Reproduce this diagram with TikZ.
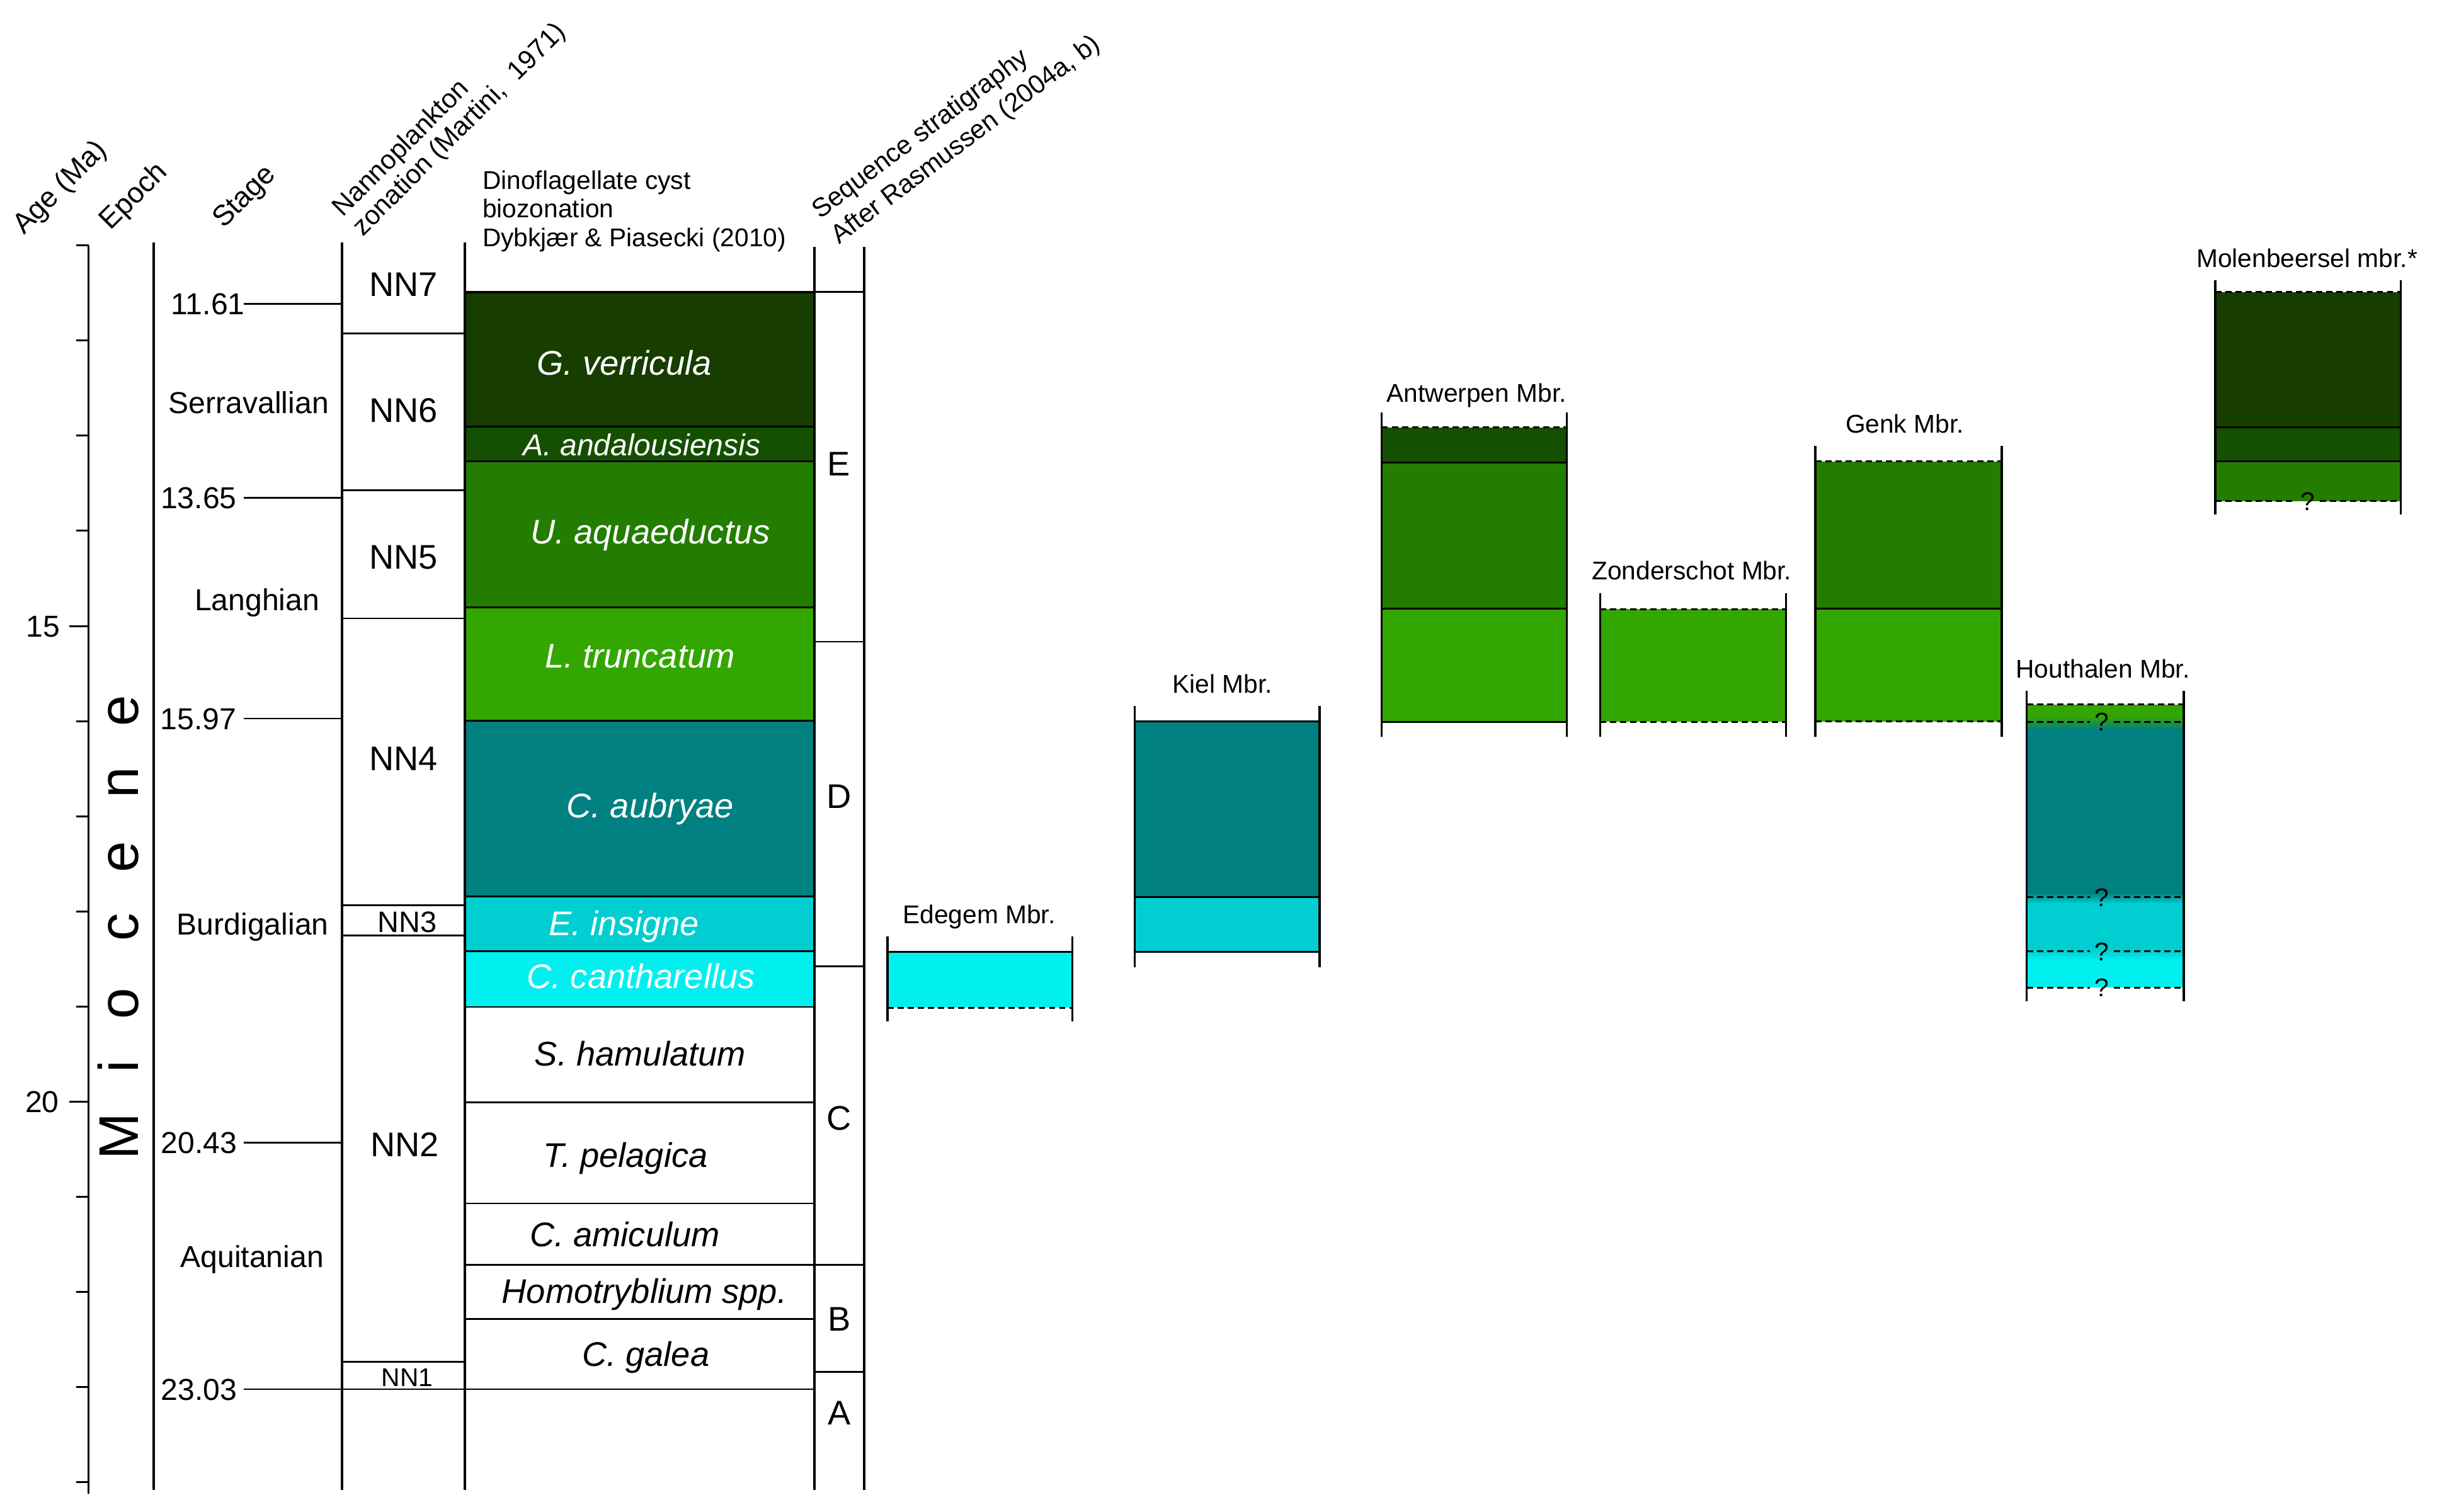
\documentclass[tikz,border=0pt]{standalone}
\usepackage{fontspec}
\setmainfont{Liberation Sans}
\newcommand{\myfs}[1]{\fontsize{#1}{#1}\selectfont}
\definecolor{gver}{HTML}{173D00}
\definecolor{aand}{HTML}{154F02}
\definecolor{uaq}{HTML}{237D00}
\definecolor{ltr}{HTML}{33A600}
\definecolor{caub}{HTML}{008080}
\definecolor{eins}{HTML}{00CED1}
\definecolor{ccan}{HTML}{00F0F0}
\begin{document}
\begin{tikzpicture}[x=1pt,y=-1pt,
  col/.style={line width=1.45pt},
  bnd/.style={line width=1.15pt},
  topbnd/.style={line width=1.4pt},
  tk/.style={line width=1.15pt},
  dsh/.style={line width=1.2pt, dash pattern=on 4pt off 2.5pt},
  side/.style={line width=1.35pt},
  txt/.style={inner sep=0pt, outer sep=0pt, text depth=0pt},
  hdr/.style={inner sep=0pt, outer sep=0pt, font=\myfs{16.5}, anchor=base west},
  hdrb/.style={inner sep=0pt, outer sep=0pt, font=\myfs{18.5}, anchor=base west, rotate=45},
  stg/.style={txt, font=\myfs{19.5}, text height=13.96pt},
  nn/.style={txt, font=\myfs{22}, text height=15.75pt},
  nnm/.style={txt, font=\myfs{19}, text height=13.6pt},
  nns/.style={txt, font=\myfs{16.5}, text height=11.8pt},
  seqlab/.style={txt, font=\myfs{22}, text height=15.75pt},
  dino/.style={txt, font=\myfs{22}\itshape, text height=15.75pt},
  dinos/.style={txt, font=\myfs{19.5}\itshape, text height=13.96pt},
  mbr/.style={txt, font=\myfs{16.5}, text height=11.8pt},
  qm/.style={txt, font=\myfs{16.5}, text height=11.8pt},
  epo/.style={inner sep=0pt, outer sep=0pt, font=\myfs{36}, anchor=base, rotate=90},
]
\useasboundingbox[fill=white] (0,0) rectangle (1568,973);

% ---------- headers ----------
\node[hdrb] (hAge) at (15.5,151.5) {Age (Ma)};
\node[hdrb] (hEpoch) at (71.3,148.6) {Epoch};
\node[hdrb] (hStage) at (144,147.5) {Stage};
\node[inner sep=0pt, outer sep=0pt, font=\fontsize{17.2}{18}\selectfont,
      align=left, anchor=base west, rotate=45] (hNan) at (233.5,152.6)
      {Nannoplankton\\zonation (Martini,\ \ 1971)};
\node[hdr] (hDin1) at (310.5,121.8) {Dinoflagellate cyst};
\node[hdr] (hDin2) at (310.5,140.2) {biozonation};
\node[hdr] (hDin3) at (310.5,158.6) {Dybkjær \& Piasecki (2010)};
\node[inner sep=0pt, outer sep=0pt, font=\fontsize{16.9}{20.5}\selectfont,
      align=left, anchor=base west, rotate=37] (hSeq) at (540,157.5)
      {Sequence stratigraphy\\After Rasmussen (2004a, b)};

% ---------- dinoflagellate column fills ----------
\fill[gver] (299,188) rectangle (524,274.5);
\fill[aand] (299,274.5) rectangle (524,297);
\fill[uaq]  (299,297) rectangle (524,391);
\fill[ltr]  (299,391) rectangle (524,464);
\fill[caub] (299,464) rectangle (524,577);
\fill[eins] (299,577) rectangle (524,612);
\fill[ccan] (299,612) rectangle (524,648);

% dino boundaries
\draw[topbnd] (299,188) -- (524,188);
\draw[bnd] (524,188) -- (556,188);
\foreach \yy in {274.5,297,391,464,577,612,648,709.5,774.5,814,849}
  \draw[bnd] (299,\yy) -- (524,\yy);
\draw[bnd] (157,894) -- (524,894);

% sequence boundaries
\foreach \yy in {413,622,814,883}
  \draw[bnd] (524,\yy) -- (556,\yy);

% nannoplankton boundaries
\foreach \yy in {214.5,315.5,398,582.5,602,876.5}
  \draw[bnd] (220,\yy) -- (299,\yy);

% stage age ticks
\foreach \yy in {195.5,320.4,462.4,735.3}
  \draw[tk] (157,\yy) -- (220,\yy);

% ---------- age axis ----------
\draw[col] (57,158) -- (57,961.5);
\foreach \yy in {158,219.2,280.4,341.6,464.2,525.4,586.6,647.8,770.2,831.4,892.6,953.8}
  \draw[tk] (49,\yy) -- (57,\yy);
\draw[tk] (44.5,403) -- (57,403);
\draw[tk] (44.5,709) -- (57,709);
\node[stg, anchor=east] (a15) at (38.6,403) {15};
\node[stg, anchor=east] (a20) at (38,709) {20};

% ---------- column lines ----------
\draw[col] (99,156) -- (99,959);
\draw[col] (220,156) -- (220,959);
\draw[col] (299,156) -- (299,959);
\draw[col] (524,159) -- (524,959);
\draw[col] (556,159) -- (556,959);

% ---------- epoch ----------
\node[epo] (eM) at (89,731.4) {M};
\node[epo] (eI) at (89,686.4) {i};
\node[epo] (eO) at (89,645.8) {o};
\node[epo] (eC) at (89,596.7) {c};
\node[epo] (eE1) at (89,551.3) {e};
\node[epo] (eN) at (89,503.8) {n};
\node[epo] (eE2) at (89,457.5) {e};

% ---------- stage ----------
\node[stg, anchor=east] (s1161) at (157.5,195.5) {11.61};
\node[stg, anchor=east] (s1365) at (152.2,320.4) {13.65};
\node[stg, anchor=east] (s1597) at (152,462.4) {15.97};
\node[stg, anchor=east] (s2043) at (152.4,735.3) {20.43};
\node[stg, anchor=east] (s2303) at (152.4,894) {23.03};
\node[stg] (sSer) at (160,259) {Serravallian};
\node[stg] (sLan) at (165.4,386) {Langhian};
\node[stg] (sBur) at (162.6,594.7) {Burdigalian};
\node[stg] (sAqu) at (162.2,808.7) {Aquitanian};

% ---------- nannoplankton ----------
\node[nn] (nn7) at (259.5,183) {NN7};
\node[nn] (nn6) at (259.5,264) {NN6};
\node[nn] (nn5) at (259.5,358.4) {NN5};
\node[nn] (nn4) at (259.5,488) {NN4};
\node[nnm] (nn3) at (262,593.2) {NN3};
\node[nn] (nn2) at (260.5,736.3) {NN2};
\node[nns] (nn1) at (262,886.3) {NN1};

% ---------- dino labels ----------
\node[dino, text=white] (dGv) at (401.8,233.5) {G. verricula};
\node[dinos, text=white] (dAa) at (413,286.4) {A. andalousiensis};
\node[dino, text=white] (dUa) at (418.4,342.2) {U. aquaeductus};
\node[dino, text=white] (dLt) at (411.7,422) {L. truncatum};
\node[dino, text=white] (dCa) at (418.4,518.5) {C. aubryae};
\node[dino, text=white] (dEi) at (401.5,594) {E. insigne};
\node[dino, text=white] (dCc) at (412.4,628.3) {C. cantharellus};
\node[dino] (dSh) at (411.9,677.9) {S. hamulatum};
\node[dino] (dTp) at (402.5,743.2) {T. pelagica};
\node[dino] (dCam) at (402,794.3) {C. amiculum};
\node[dino] (dHs) at (414.6,831) {Homotryblium spp.};
\node[dino] (dCg) at (415.5,871.2) {C. galea};

% ---------- sequence labels ----------
\node[seqlab] (qE) at (539.7,298.3) {E};
\node[seqlab] (qD) at (540,512.4) {D};
\node[seqlab] (qC) at (540,719.2) {C};
\node[seqlab] (qB) at (540,848.8) {B};
\node[seqlab] (qA) at (540,909) {A};

% ---------- Edegem ----------
\fill[ccan] (571,612.5) rectangle (690,648.5);
\draw[bnd] (571,612.5) -- (690,612.5);
\draw[dsh] (571,648.5) -- (690,648.5);
\draw[side] (571,602.5) -- (571,657.5);
\draw[side] (690,602.5) -- (690,657.5);
\node[mbr] (lEde) at (630,588.5) {Edegem Mbr.};

% ---------- Kiel ----------
\fill[caub] (730,464.3) rectangle (849,577.4);
\fill[eins] (730,577.4) rectangle (849,612.4);
\draw[bnd] (730,464.3) -- (849,464.3);
\draw[bnd] (730,577.4) -- (849,577.4);
\draw[bnd] (730,612.4) -- (849,612.4);
\draw[side] (730,454.5) -- (730,622.6);
\draw[side] (849,454.5) -- (849,622.6);
\node[mbr] (lKie) at (786.5,440.2) {Kiel Mbr.};

% ---------- Antwerpen ----------
\fill[aand] (889,275) rectangle (1008,297.6);
\fill[uaq]  (889,297.6) rectangle (1008,391.8);
\fill[ltr]  (889,391.8) rectangle (1008,464.6);
\draw[dsh] (889,275) -- (1008,275);
\draw[bnd] (889,297.6) -- (1008,297.6);
\draw[bnd] (889,391.8) -- (1008,391.8);
\draw[bnd] (889,464.6) -- (1008,464.6);
\draw[side] (889,265.5) -- (889,474);
\draw[side] (1008,265.5) -- (1008,474);
\node[mbr] (lAnt) at (950,252.7) {Antwerpen Mbr.};

% ---------- Zonderschot ----------
\fill[ltr] (1029.5,392) rectangle (1149,464.6);
\draw[dsh] (1029.5,392) -- (1149,392);
\draw[dsh] (1029.5,464.6) -- (1149,464.6);
\draw[side] (1029.5,381.6) -- (1029.5,474);
\draw[side] (1149,381.6) -- (1149,474);
\node[mbr] (lZon) at (1088.5,367.2) {Zonderschot Mbr.};

% ---------- Genk ----------
\fill[uaq] (1168,297) rectangle (1288,391.6);
\fill[ltr] (1168,391.6) rectangle (1288,464.3);
\draw[dsh] (1168,297) -- (1288,297);
\draw[bnd] (1168,391.6) -- (1288,391.6);
\draw[dsh] (1168,464.3) -- (1288,464.3);
\draw[side] (1168,287) -- (1168,474);
\draw[side] (1288,287) -- (1288,474);
\node[mbr] (lGen) at (1225.5,272.7) {Genk Mbr.};

% ---------- Houthalen ----------
\fill[ltr]  (1304,453.3) rectangle (1405,464.6);
\fill[caub] (1304,464.6) rectangle (1405,577.3);
\fill[eins] (1304,577.3) rectangle (1405,612.2);
\fill[ccan] (1304,612.2) rectangle (1405,635.5);
\shade[top color=ltr, bottom color=caub] (1304,461) rectangle (1405,469.5);
\shade[top color=caub, bottom color=eins] (1304,574.5) rectangle (1405,581.5);
\shade[top color=eins, bottom color=ccan] (1304,611) rectangle (1405,618.5);
\draw[dsh] (1304,453.3) -- (1405,453.3);
\foreach \yy in {464.6,577.3,612.2,635.5} {
  \draw[dsh] (1304,\yy) -- (1344.5,\yy);
  \draw[dsh] (1360,\yy) -- (1405,\yy);
}
\node[qm] (hq1) at (1352.5,464.6) {?};
\node[qm] (hq2) at (1352.5,577.3) {?};
\node[qm] (hq3) at (1352.5,612.2) {?};
\node[qm] (hq4) at (1352.5,635.5) {?};
\draw[side] (1304,444.7) -- (1304,644.5);
\draw[side] (1405,444.7) -- (1405,644.5);
\node[mbr] (lHou) at (1353,430.5) {Houthalen Mbr.};

% ---------- Molenbeersel ----------
\fill[gver] (1425.3,188) rectangle (1544.8,275);
\fill[aand] (1425.3,275) rectangle (1544.8,297);
\fill[uaq]  (1425.3,297) rectangle (1544.8,322.4);
\draw[dsh] (1425.3,188) -- (1544.8,188);
\draw[bnd] (1425.3,275) -- (1544.8,275);
\draw[bnd] (1425.3,297) -- (1544.8,297);
\draw[dsh] (1425.3,322.4) -- (1477,322.4);
\draw[dsh] (1492.5,322.4) -- (1544.8,322.4);
\node[qm] (mq1) at (1485,322.4) {?};
\draw[side] (1425.3,180.3) -- (1425.3,331);
\draw[side] (1544.8,180.3) -- (1544.8,331);
\node[mbr] (lMol) at (1484.3,166) {Molenbeersel mbr.*};

\end{tikzpicture}
\end{document}
